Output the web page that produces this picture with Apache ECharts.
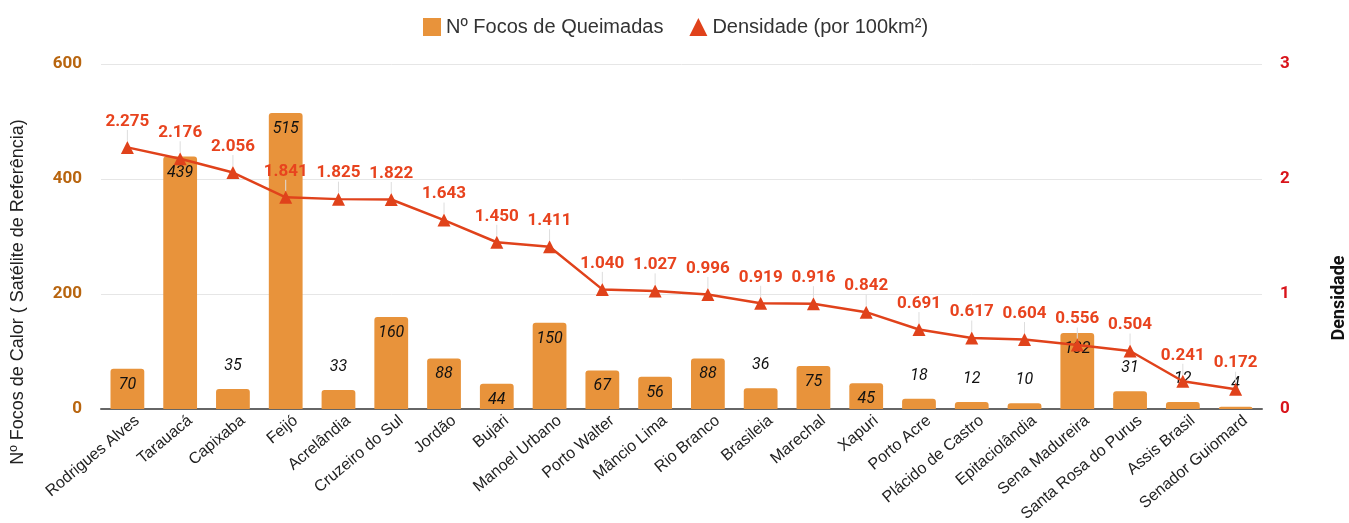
<!DOCTYPE html>
<html>
<head>
<meta charset="utf-8">
<script src="https://cdn.jsdelivr.net/npm/echarts@6/dist/echarts.min.js"></script>
<style>
  html, body { margin: 0; padding: 0; background: #fff; }
  #main { width: 1349px; height: 523px; }
</style>
</head>
<body>
<div id="main"></div>
<script>
const municipios = ['Rodrigues Alves', 'Tarauacá', 'Capixaba', 'Feijó', 'Acrelândia', 'Cruzeiro do Sul',
  'Jordão', 'Bujari', 'Manoel Urbano', 'Porto Walter', 'Mâncio Lima', 'Rio Branco', 'Brasileia',
  'Marechal', 'Xapuri', 'Porto Acre', 'Plácido de Castro', 'Epitaciolândia', 'Sena Madureira',
  'Santa Rosa do Purus', 'Assis Brasil', 'Senador Guiomard']
const focos = [70, 439, 35, 515, 33, 160, 88, 44, 150, 67, 56, 88, 36, 75, 45, 18, 12, 10, 132, 31, 12, 4]
const densidade = [2.275, 2.176, 2.056, 1.841, 1.825, 1.822, 1.643, 1.450, 1.411, 1.040, 1.027, 0.996,
  0.919, 0.916, 0.842, 0.691, 0.617, 0.604, 0.556, 0.504, 0.241, 0.172]
const focosTicks = [0, 200, 400, 600]
const densTicks = [0, 1, 2, 3]

const chart = echarts.init(document.getElementById('main'))

// short bars get their label above, tall ones inside
const barData = focos.map(v => ({
  value: v,
  label: v < 40 ? { position: 'top', distance: 15 } : { position: 'insideTop', distance: 8 }
}))

const option = {
  animation: false,
  legend: {
    top: 12,
    left: 418,
    itemGap: 26,
    itemWidth: 18,
    itemHeight: 18,
    textStyle: { fontFamily: 'Liberation Sans, Arial', fontSize: 20, color: '#333' },
    data: [
      { name: 'Nº Focos de Queimadas', icon: 'rect' },
      { name: 'Densidade (por 100km²)', icon: 'triangle' }
    ]
  },
  grid: { left: 101, right: 87, top: 64, bottom: 114, outerBoundsMode: 'none' },
  xAxis: {
    type: 'category',
    data: municipios,
    axisTick: { show: false },
    axisLine: { lineStyle: { color: '#666', width: 2 } },
    axisLabel: {
      rotate: 40, interval: 0, margin: 18, padding: [0, -13, 0, 0],
      fontFamily: 'Liberation Sans, Arial', fontSize: 16, color: '#222'
    }
  },
  yAxis: [
    {
      type: 'value', min: focosTicks[0], max: focosTicks[3], interval: 200,
      axisLine: { show: false }, axisTick: { show: false },
      splitLine: { lineStyle: { color: '#e6e6e6' } },
      axisLabel: { fontFamily: 'Roboto', fontWeight: 'bold', fontSize: 17, color: '#b8650f', margin: 19 }
    },
    {
      type: 'value', min: densTicks[0], max: densTicks[3], interval: 1,
      axisLine: { show: false }, axisTick: { show: false },
      splitLine: { show: false },
      axisLabel: { fontFamily: 'Roboto', fontWeight: 'bold', fontSize: 17, color: '#d9141b', margin: 18 }
    }
  ],
  graphic: [
    {
      type: 'text', rotation: Math.PI / 2,
      x: 18, y: 292,
      style: { text: 'Nº Focos de Calor ( Satélite de Referência)', font: '18px Liberation Sans, Arial', fill: '#222', align: 'center', verticalAlign: 'middle' }
    },
    {
      type: 'text', rotation: Math.PI / 2,
      x: 1339, y: 298,
      style: { text: 'Densidade', font: 'bold 18px Roboto', fill: '#111', align: 'center', verticalAlign: 'middle' }
    }
  ],
  series: [
    {
      name: 'Nº Focos de Queimadas',
      type: 'bar',
      data: barData,
      barWidth: '64%',
      itemStyle: { color: '#e8933b', borderRadius: [3, 3, 0, 0] },
      label: {
        show: true, fontFamily: 'Roboto', fontStyle: 'italic', fontSize: 16, color: '#111'
      }
    },
    {
      name: 'Densidade (por 100km²)',
      type: 'line',
      yAxisIndex: 1,
      data: densidade,
      symbol: 'triangle',
      symbolSize: 13,
      z: 5,
      lineStyle: { color: '#e0421b', width: 2.5 },
      itemStyle: { color: '#e0421b' },
      label: {
        show: true, position: 'top', distance: 6,
        fontFamily: 'Roboto', fontWeight: 'bold', fontSize: 17, color: '#e8431e',
        formatter: p => p.value.toFixed(3)
      },
      labelLayout: { dy: -5 },
      labelLine: { show: true, lineStyle: { color: '#ddd', width: 1 } }
    }
  ]
}

chart.setOption(option)
</script>
</body>
</html>
